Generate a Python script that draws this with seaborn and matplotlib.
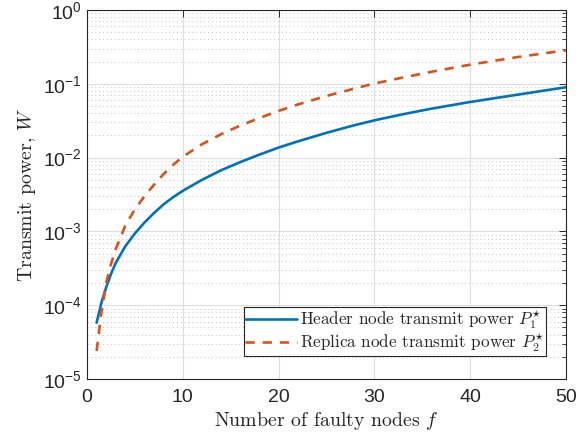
import numpy as np
import pandas as pd
import matplotlib
matplotlib.use("Agg")
import matplotlib.pyplot as plt
import matplotlib.ticker as mticker
import seaborn as sns

# values
f_nodes = [1, 1.5, 2, 2.5, 3, 4, 5, 6, 7, 8, 9, 10, 12, 14, 16, 18, 20,
           22, 25, 28, 30, 33, 36, 40, 45, 50]
header_power = [5.8e-5, 1.08e-4, 1.75e-4, 2.65e-4, 3.75e-4, 6.3e-4, 9.4e-4, 1.32e-3,
                1.78e-3, 2.33e-3, 2.92e-3, 3.55e-3, 5.0e-3, 6.75e-3, 8.7e-3, 1.1e-2,
                1.37e-2, 1.66e-2, 2.17e-2, 2.77e-2, 3.2e-2, 3.88e-2, 4.62e-2, 5.68e-2,
                7.15e-2, 9.0e-2]
replica_power = [2.4e-5, 8.0e-5, 2.0e-4, 3.6e-4, 5.8e-4, 1.2e-3, 2.0e-3, 3.0e-3,
                 4.3e-3, 6.0e-3, 8.0e-3, 1.03e-2, 1.52e-2, 2.08e-2, 2.72e-2, 3.45e-2,
                 4.3e-2, 5.25e-2, 6.85e-2, 8.7e-2, 0.101, 0.122, 0.146, 0.182, 0.231,
                 0.285]

header_label = r"Header node transmit power $P_1^{\star}$"
replica_label = r"Replica node transmit power $P_2^{\star}$"

df = pd.DataFrame({"f": f_nodes, "header": header_power, "replica": replica_power})

sns.set_style("white")
plt.rcParams["font.family"] = ["Liberation Sans", "DejaVu Sans"]
plt.rcParams["mathtext.fontset"] = "cm"
plt.rcParams["axes.unicode_minus"] = False

fig = plt.figure(figsize=(5.86, 4.4), dpi=100)
ax = fig.add_axes([0.1485, 0.1386, 0.8175, 0.8386])

sns.lineplot(data=df, x="f", y="header", color="#0072BD", linewidth=1.9,
             label=header_label, ax=ax)
sns.lineplot(data=df, x="f", y="replica", color="#D95319", linewidth=1.9,
             label=replica_label, ax=ax)
ax.lines[1].set_dashes((3.5, 3.0))

ax.set_yscale("log")
ax.set_xlim(0, 50)
ax.set_ylim(1e-5, 1)
ax.set_xticks([0, 10, 20, 30, 40, 50])
ax.yaxis.set_major_locator(mticker.LogLocator(base=10, numticks=10))
ax.yaxis.set_minor_locator(mticker.LogLocator(base=10, subs=np.arange(2, 10), numticks=10))
ax.yaxis.set_minor_formatter(mticker.NullFormatter())

# matlab-ish grid
ax.grid(True, which="major", color="#dedede", linewidth=0.8)
ax.grid(True, which="minor", axis="y", color="#c4c4c4", linestyle=(0, (1, 3)), linewidth=0.7)
ax.set_axisbelow(True)

ax.tick_params(which="both", direction="in", top=True, right=True, colors="#262626",
               labelcolor="#262626", labelsize=14)
ax.tick_params(which="major", length=5, width=0.7)
ax.tick_params(which="minor", length=3, width=0.6)
ax.tick_params(axis="x", pad=7)
for s in ax.spines.values():
    s.set_color("#262626")
    s.set_linewidth(0.8)

ax.set_xlabel("Number of faulty nodes $f$", fontfamily="cmr10", fontsize=14.3,
              color="#262626", labelpad=3)
ax.set_ylabel("Transmit power, $W$", fontfamily="cmr10", fontsize=14.3,
              color="#262626", labelpad=4)

leg = ax.legend(loc="lower right", bbox_to_anchor=(0.958, 0.062), frameon=True, fancybox=False,
                edgecolor="#262626", framealpha=1, borderpad=0.1, labelspacing=0.0,
                handlelength=3.0, handletextpad=0.2, borderaxespad=0,
                prop={"family": "cmr10", "size": 12.3})
leg.get_frame().set_linewidth(0.8)

fig.savefig("out.png", dpi=100)
